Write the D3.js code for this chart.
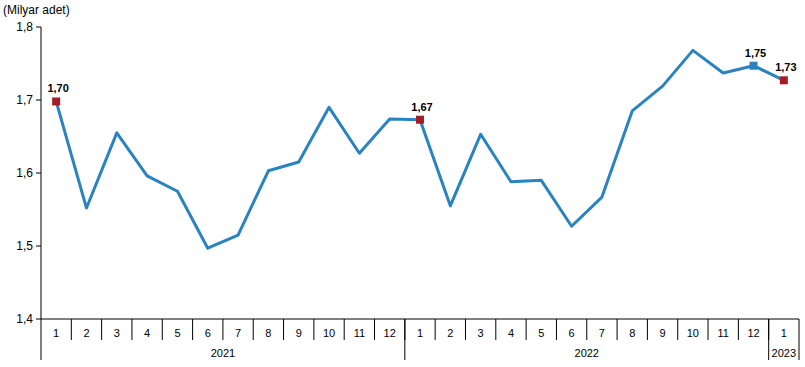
<!DOCTYPE html>
<html>
<head>
<meta charset="utf-8">
<script src="https://cdn.jsdelivr.net/npm/d3@7"></script>
<style>
  body { margin: 0; background: #fff; }
  svg { font-family: "Liberation Sans", Arial, sans-serif; }
</style>
</head>
<body>
<svg width="805" height="367"></svg>
<script>
// data
const months = ["1","2","3","4","5","6","7","8","9","10","11","12",
                "1","2","3","4","5","6","7","8","9","10","11","12","1"];
const years = [
  { year: "2021", count: 12 },
  { year: "2022", count: 12 },
  { year: "2023", count: 1 }
];
const values = [1.698, 1.552, 1.655, 1.596, 1.575, 1.497, 1.515, 1.603, 1.615, 1.690, 1.627, 1.674,
                 1.673, 1.555, 1.653, 1.588, 1.590, 1.527, 1.567, 1.685, 1.719, 1.768, 1.737, 1.747, 1.727];
const yTicks = [1.4, 1.5, 1.6, 1.7, 1.8];
// labelled points: index, text, marker colour
const labelled = [
  { i: 0, text: "1,70", color: "#a51c24" },
  { i: 12, text: "1,67", color: "#a51c24" },
  { i: 23, text: "1,75", color: "#2a83c0" },
  { i: 24, text: "1,73", color: "#a51c24" }
];

const svg = d3.select("svg");
const mLeft = 41, mRight = 799, mTop = 27, mBottom = 319;

const idx = months.map((d, i) => i);
const x = d3.scaleBand().domain(idx).range([mLeft, mRight]);
const y = d3.scaleLinear().domain([1.4, 1.8]).range([mBottom, mTop]);
const fmt = v => d3.format(".1f")(v).replace(".", ",");

// y axis
svg.append("line")
  .attr("x1", mLeft).attr("x2", mLeft)
  .attr("y1", mTop).attr("y2", mBottom)
  .attr("stroke", "#000");

svg.selectAll(".ytick")
  .data(yTicks)
  .enter().append("line")
  .attr("x1", mLeft - 5).attr("x2", mLeft)
  .attr("y1", d => y(d)).attr("y2", d => y(d))
  .attr("stroke", "#000");

svg.selectAll(".ylab")
  .data(yTicks)
  .enter().append("text")
  .attr("x", 33)
  .attr("y", d => y(d) + 4)
  .attr("text-anchor", "end")
  .style("font-size", "12px")
  .text(fmt);

svg.append("text")
  .attr("x", 3).attr("y", 14)
  .style("font-size", "12px")
  .text("(Milyar adet)");

// x axis
svg.append("line")
  .attr("x1", mLeft).attr("x2", mRight)
  .attr("y1", mBottom).attr("y2", mBottom)
  .attr("stroke", "#000");

// month separators
svg.selectAll(".msep")
  .data(idx.slice(1))
  .enter().append("line")
  .attr("x1", d => x(d)).attr("x2", d => x(d))
  .attr("y1", mBottom).attr("y2", mBottom + 21)
  .attr("stroke", "#000");

svg.selectAll(".mlab")
  .data(idx)
  .enter().append("text")
  .attr("x", d => x(d) + x.bandwidth() / 2)
  .attr("y", mBottom + 18)
  .attr("text-anchor", "middle")
  .style("font-size", "11px")
  .text(d => months[d]);

// year separators and labels
let start = 0;
const yearPos = years.map(d => {
  const r = { year: d.year, from: start, to: start + d.count - 1 };
  start += d.count;
  return r;
});
const yearEdges = [0].concat(yearPos.map(d => d.to + 1));

svg.selectAll(".ysep")
  .data(yearEdges)
  .enter().append("line")
  .attr("x1", d => d < months.length ? x(d) : mRight)
  .attr("x2", d => d < months.length ? x(d) : mRight)
  .attr("y1", mBottom).attr("y2", mBottom + 41)
  .attr("stroke", "#000");

svg.selectAll(".ylabx")
  .data(yearPos)
  .enter().append("text")
  .attr("x", d => (x(d.from) + x(d.to) + x.bandwidth()) / 2)
  .attr("y", mBottom + 38)
  .attr("text-anchor", "middle")
  .style("font-size", "11px")
  .text(d => d.year);

// line
const line = d3.line()
  .x((d, i) => x(i) + x.bandwidth() / 2)
  .y(d => y(d));

svg.append("path")
  .datum(values)
  .attr("fill", "none")
  .attr("stroke", "#2a83c0")
  .attr("stroke-width", 3)
  .attr("stroke-linejoin", "round")
  .attr("d", line);

// markers
svg.selectAll(".mark")
  .data(labelled)
  .enter().append("rect")
  .attr("x", d => x(d.i) + x.bandwidth() / 2 - 4)
  .attr("y", d => y(values[d.i]) - 4)
  .attr("width", 8).attr("height", 8)
  .attr("fill", d => d.color);

svg.selectAll(".vlab")
  .data(labelled)
  .enter().append("text")
  .attr("x", d => x(d.i) + x.bandwidth() / 2 + 2)
  .attr("y", d => y(values[d.i]) - 9)
  .attr("text-anchor", "middle")
  .style("font-size", "11px")
  .style("font-weight", "bold")
  .text(d => d.text);
</script>
</body>
</html>
